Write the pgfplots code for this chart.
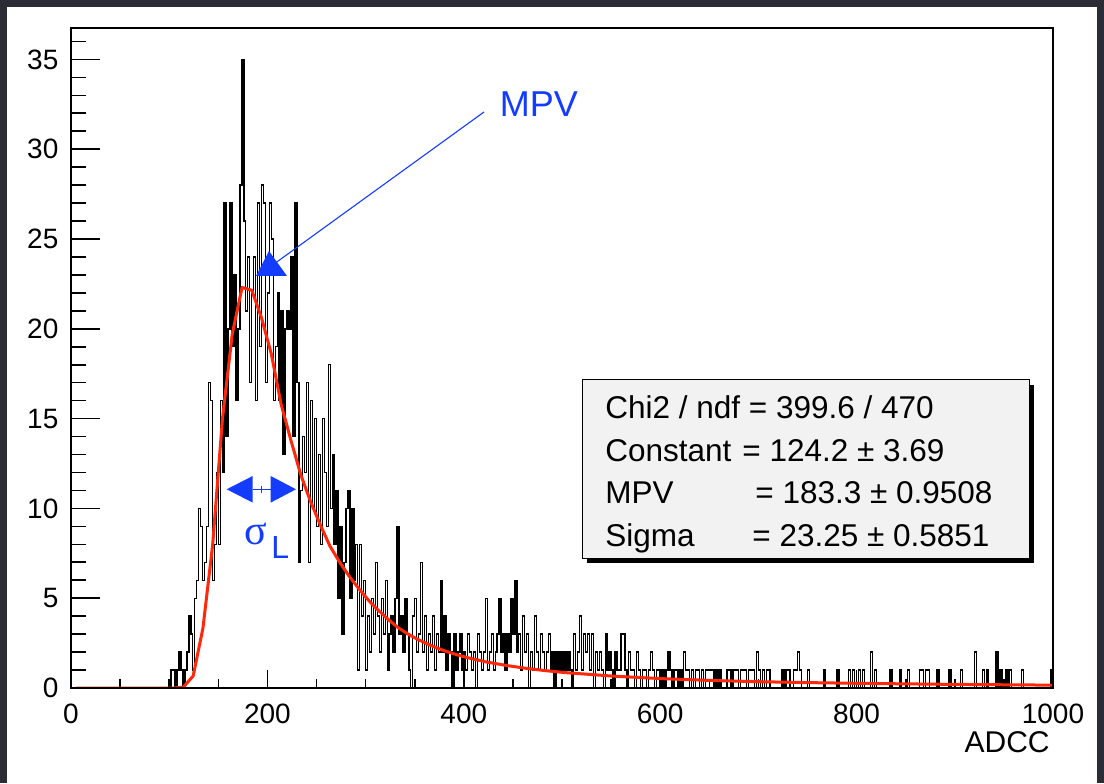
\documentclass[border=0pt]{standalone}
\usepackage{pgfplots}
\pgfplotsset{compat=1.18}
\usepackage{fontspec}
\setmainfont{Liberation Sans}
\newfontfamily\serifgreek{Liberation Serif}
\definecolor{bgdark}{RGB}{44,44,54}
\definecolor{rootblue}{RGB}{20,60,255}
\definecolor{rootred}{RGB}{255,40,10}
\definecolor{boxgray}{RGB}{242,242,242}
\begin{document}
\begin{tikzpicture}
\useasboundingbox (0,0) rectangle (552pt,391.5pt);
\fill[bgdark] (0,0) rectangle (552pt,391.5pt);
\fill[white] (3.5pt,0) rectangle (548.5pt,388pt);
\begin{axis}[at={(35.5pt,47.5pt)}, anchor=south west, scale only axis,
  width=491pt, height=330pt, xmin=0, xmax=1000, ymin=0, ymax=36.75,
  axis line style={line width=0.8pt}, tick align=inside,
  xtick={0,200,...,1000}, xticklabels={0,200,400,600,800,1000},
  minor x tick num=3, xtick pos=left, ytick=\empty,
  major tick length=9pt, minor tick length=4.5pt,
  tick style={black, line width=0.8pt},
  /pgf/number format/assume math mode=true,
  xticklabel style={font=\fontsize{14pt}{14pt}\selectfont, yshift=-4.5pt}]
\addplot[const plot, black, line width=0.7pt] coordinates {
(0,0) (100,0) (102,1) (104,1) (106,0) (108,1) (110,2) (112,1) (114,0) (116,1) (118,2)
(120,4) (122,3) (124,1) (126,5) (128,6) (130,10) (132,9) (134,6) (136,7) (138,9)
(140,17) (142,16) (144,6) (146,8) (148,12) (150,8) (152,16) (154,12) (156,27) (158,14)
(160,20) (162,27) (164,19) (166,23) (168,16) (170,20) (172,28) (174,35) (176,26) (178,21)
(180,24) (182,17) (184,22) (186,24) (188,16) (190,27) (192,19) (194,28) (196,27) (198,17)
(200,22) (202,27) (204,25) (206,16) (208,19) (210,22) (212,16) (214,21) (216,13) (218,20)
(220,21) (222,20) (224,24) (226,14) (228,27) (230,17) (232,7) (234,11) (236,14) (238,12)
(240,17) (242,7) (244,16) (246,10) (248,15) (250,9) (252,13) (254,8) (256,15) (258,12)
(260,9) (262,18) (264,10) (266,13) (268,8) (270,11) (272,5) (274,9) (276,3) (278,7)
(280,10) (282,11) (284,5) (286,10) (288,6) (290,8) (292,1) (294,8) (296,4) (298,6)
(300,1) (302,4) (304,2) (306,5) (308,3) (310,7) (312,4) (314,2) (316,5) (318,3)
(320,6) (322,1) (324,3) (326,4) (328,2) (330,5) (332,9) (334,3) (336,4) (338,2)
(340,5) (342,3) (344,1) (346,0) (348,4) (350,5) (352,2) (354,3) (356,7) (358,2)
(360,4) (362,1) (364,3) (366,2) (368,4) (370,1) (372,3) (374,2) (376,6) (378,2)
(380,4) (382,1) (384,3) (386,2) (388,0) (390,3) (392,1) (394,2) (396,3) (398,1)
(400,2) (402,1) (404,3) (406,2) (408,1) (410,2) (412,0) (414,3) (416,2) (418,1)
(420,2) (422,5) (424,1) (426,2) (428,3) (430,1) (432,2) (434,3) (436,5) (438,2)
(440,3) (442,1) (444,3) (446,2) (448,5) (450,3) (452,6) (454,2) (456,3) (458,1)
(460,4) (462,2) (464,3) (466,0) (468,2) (470,1) (472,4) (474,2) (476,1) (478,3)
(480,2) (482,1) (484,2) (486,3) (488,1) (490,2) (492,0) (494,2) (496,1) (498,2)
(500,1) (502,2) (504,1) (506,2) (508,1) (510,0) (512,3) (514,1) (516,2) (518,4)
(520,1) (522,3) (524,2) (526,3) (528,1) (530,3) (532,0) (534,2) (536,1) (538,2)
(540,1) (542,0) (544,3) (546,1) (548,2) (550,1) (552,0) (554,2) (556,1) (558,1)
(560,3) (562,3) (564,1) (566,0) (568,2) (570,1) (572,1) (574,0) (576,2) (578,1)
(580,0) (582,1) (584,1) (586,0) (588,1) (590,2) (592,1) (594,0) (596,1) (598,1)
(600,0) (602,1) (604,0) (606,1) (608,2) (610,1) (612,0) (614,1) (616,1) (618,0)
(620,1) (622,0) (624,2) (626,1) (628,1) (630,0) (632,1) (634,0) (636,1) (638,1)
(640,0) (642,1) (644,0) (646,1) (648,1)
(650,1) (652,1) (654,0) (656,1) (658,0) (660,1) (662,0) (668,1)
(670,1) (672,0) (674,1) (676,1) (678,1) (680,0) (682,1) (684,1) (686,1) (688,0)
(690,1) (692,1) (694,1) (696,0) (698,2) (700,1) (702,0) (704,1) (706,0) (708,1)
(710,1) (712,0) (724,1) (726,0) (728,1) (730,1) (732,0) (736,1) (738,1) (740,2)
(742,1) (744,0) (750,1) (752,0) (766,1) (768,0) (780,1) (782,0) (792,1) (794,0)
(796,1) (798,0) (802,1) (804,0) (806,1) (808,0) (814,2) (816,0) (818,1) (820,0)
(834,1) (836,0) (844,1) (846,0) (852,1) (854,0) (864,1) (866,1) (868,0) (870,1)
(872,1) (874,0) (882,1) (884,0) (894,1) (896,0) (906,1) (908,0) (920,2) (922,0)
(928,1) (930,0) (932,1) (934,0) (942,2) (944,0) (946,1) (948,0) (952,1) (954,0)
(956,1) (958,0) (968,1) (970,0) (998,1) (1000,1)
};
\addplot[rootred, line width=1.5pt, line join=round] coordinates {
(5,0) (104.5,0) (114.45,0.05) (124.4,0.67) (134.35,3.33) (144.3,8.0) (154.25,15.0)
(164.2,19.7) (174.15,22.3) (184.1,22.15) (194.05,20.6) (204,18.6) (213.95,15.8)
(223.9,13.8) (233.85,11.9) (243.8,10.4) (253.75,9.1) (263.7,7.9) (273.65,7.0)
(283.6,6.2) (293.55,5.5) (303.5,4.85) (313.45,4.3) (323.4,3.8) (333.35,3.35)
(343.3,3.0) (353.25,2.7) (363.2,2.45) (373.15,2.22) (383.1,2.02) (393.05,1.85)
(403,1.7) (422.9,1.45) (442.8,1.26) (462.7,1.1) (482.6,0.97) (502.5,0.86)
(552.25,0.66) (602,0.52) (651.75,0.42) (701.5,0.35) (751.25,0.3) (801,0.26)
(850.75,0.23) (900.5,0.2) (950.25,0.18) (1000,0.16)
};
\end{axis}
\begin{axis}[at={(35.5pt,47.5pt)}, anchor=south west, scale only axis,
  width=491pt, height=330pt, xmin=0, xmax=1000, ymin=0, ymax=36.75,
  axis line style={line width=0.8pt}, tick align=inside,
  xtick=\empty, ytick={0,5,...,40}, minor y tick num=4, ytick pos=left,
  major tick length=14.5pt, minor tick length=7.5pt,
  tick style={black, line width=0.8pt},
  /pgf/number format/assume math mode=true,
  yticklabel style={font=\fontsize{14pt}{14pt}\selectfont, xshift=-2.8pt}]
\end{axis}
\begin{scope}[x=0.5pt, y=-0.5pt, shift={(0pt,391.5pt)}]
  % stat box
  \fill[black] (587,385) rectangle (1034,563);
  \filldraw[fill=boxgray, draw=black, line width=0.5pt] (582,380) rectangle (1029,558);
  \begin{scope}[every node/.style={inner sep=0pt, font=\fontsize{15.75pt}{15.75pt}\selectfont}]
    \node[anchor=base west] at (605,419) {Chi2 / ndf = 399.6 / 470};
    \node[anchor=base west] at (605,461.5) {Constant};
    \node[anchor=base west] at (742,461.5) {= 124.2 ± 3.69};
    \node[anchor=base west] at (605,504) {MPV};
    \node[anchor=base west] at (755,504) {= 183.3 ± 0.9508};
    \node[anchor=base west] at (605,546.5) {Sigma};
    \node[anchor=base west] at (752,546.5) {= 23.25 ± 0.5851};
  \end{scope}
  % x label
  \node[anchor=base east, inner sep=0pt, font=\fontsize{15pt}{15pt}\selectfont] at (1050,752) {ADCC};
  % MPV annotation
  \node[anchor=base, inner sep=0pt, text=rootblue, font=\fontsize{18pt}{18pt}\selectfont] at (539,117) {MPV};
  \draw[rootblue, line width=0.55pt] (484,112) -- (274,264);
  \fill[rootblue] (269,251) -- (287,276) -- (256,276) -- cycle;
  % sigma arrows
  \fill[rootblue] (226.7,489.3) -- (252.7,476) -- (252.7,502.6) -- cycle;
  \fill[rootblue] (296,489.3) -- (270.7,476) -- (270.7,502.6) -- cycle;
  \draw[rootblue, line width=0.5pt] (252.7,489.3) -- (270.7,489.3);
  \draw[rootblue, line width=0.5pt] (261.7,486) -- (261.7,492.6);
  \node[anchor=base west, inner sep=0pt, text=rootblue, font=\serifgreek\fontsize{21pt}{21pt}\selectfont] at (244,545) {σ};
  \node[anchor=base west, inner sep=0pt, text=rootblue, font=\fontsize{16pt}{16pt}\selectfont] at (271,558) {L};
\end{scope}
\end{tikzpicture}
\end{document}
